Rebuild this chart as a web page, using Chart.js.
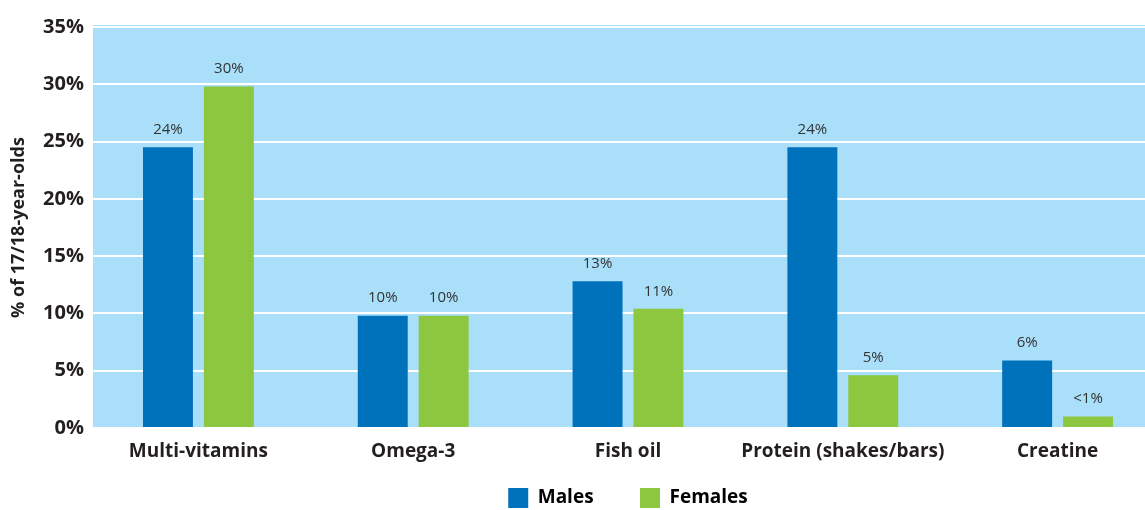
<!DOCTYPE html>
<html>
<head>
<meta charset="utf-8">
<script src="https://cdn.jsdelivr.net/npm/chart.js@4.4.1/dist/chart.umd.min.js"></script>
<style>
  html, body { margin: 0; padding: 0; background: #fff; overflow: hidden; }
  #wrap { width: 1170px; height: 510px; }
</style>
</head>
<body>
<div id="wrap"><canvas id="mainChart" width="1170" height="510"></canvas></div>
<script>
const categories = ["Multi-vitamins", "Omega-3", "Fish oil", "Protein (shakes/bars)", "Creatine"];
const males = [24.5, 9.8, 12.8, 24.5, 5.9];
const females = [29.8, 9.8, 10.4, 4.6, 1.0];
const maleLabels = ["24%", "10%", "13%", "24%", "6%"];
const femaleLabels = ["30%", "10%", "11%", "5%", "<1%"];
const yTicks = [0, 5, 10, 15, 20, 25, 30, 35];

const FONT = "'Open Sans', 'Noto Sans', sans-serif";

// plot background
const plotBg = {
    id: "plotBg",
    beforeDraw(chart) {
        const { ctx, chartArea: a } = chart;
        ctx.save();
        ctx.fillStyle = "#a9dff8";
        ctx.fillRect(a.left + 2, a.top - 2, a.right - a.left, a.bottom - a.top + 2);
        ctx.restore();
    }
};

// value labels above bars
const barLabels = {
    id: "barLabels",
    afterDatasetsDraw(chart) {
        const { ctx } = chart;
        const texts = [maleLabels, femaleLabels];
        ctx.save();
        ctx.font = "15px " + FONT;
        ctx.fillStyle = "#333333";
        ctx.textAlign = "center";
        ctx.textBaseline = "bottom";
        chart.data.datasets.forEach((ds, i) => {
            chart.getDatasetMeta(i).data.forEach((bar, j) => {
                ctx.fillText(texts[i][j], bar.x, bar.y - 10);
            });
        });
        ctx.restore();
    }
};

new Chart(document.getElementById("mainChart"), {
    type: "bar",
    data: {
        labels: categories,
        datasets: [
            {
                label: "Males",
                data: males,
                backgroundColor: "#0071bb",
                barPercentage: 0.82,
                categoryPercentage: 0.567
            },
            {
                label: "Females",
                data: females,
                backgroundColor: "#8dc63f",
                barPercentage: 0.82,
                categoryPercentage: 0.567
            }
        ]
    },
    options: {
        responsive: false,
        animation: false,
        layout: { padding: { left: 0, right: 5, top: 27, bottom: -8 } },
        plugins: {
            tooltip: { enabled: false },
            legend: {
                position: "bottom",
                fullSize: false,
                labels: {
                    boxWidth: 20,
                    boxHeight: 20,
                    padding: 2,
                    color: "#231f20",
                    font: { family: FONT, size: 19, weight: "bold" },
                    generateLabels(chart) {
                        return chart.data.datasets.map((ds, i) => ({
                            text: i === 0 ? ds.label + "         " : ds.label,
                            fillStyle: ds.backgroundColor,
                            strokeStyle: ds.backgroundColor,
                            lineWidth: 0,
                            datasetIndex: i
                        }));
                    }
                }
            }
        },
        scales: {
            x: {
                afterFit(scale) { scale.height = 58; },
                grid: { display: false, drawTicks: false },
                border: { display: false },
                ticks: {
                    padding: 12,
                    color: "#231f20",
                    font: { family: FONT, size: 19, weight: "bold" }
                }
            },
            y: {
                min: 0,
                max: 35,
                afterBuildTicks(scale) {
                    scale.ticks = yTicks.map(v => ({ value: v }));
                },
                afterFit(scale) { scale.width = 91; },
                grid: { color: "#ffffff", lineWidth: 2, drawTicks: false },
                border: { display: false },
                ticks: {
                    padding: 7,
                    color: "#231f20",
                    font: { family: FONT, size: 20, weight: "bold" },
                    callback: v => v + "%"
                },
                title: {
                    display: true,
                    text: "% of 17/18-year-olds",
                    color: "#231f20",
                    padding: { top: 8, bottom: 0 },
                    font: { family: FONT, size: 18, weight: "bold" }
                }
            }
        }
    },
    plugins: [plotBg, barLabels]
});
</script>
</body>
</html>
